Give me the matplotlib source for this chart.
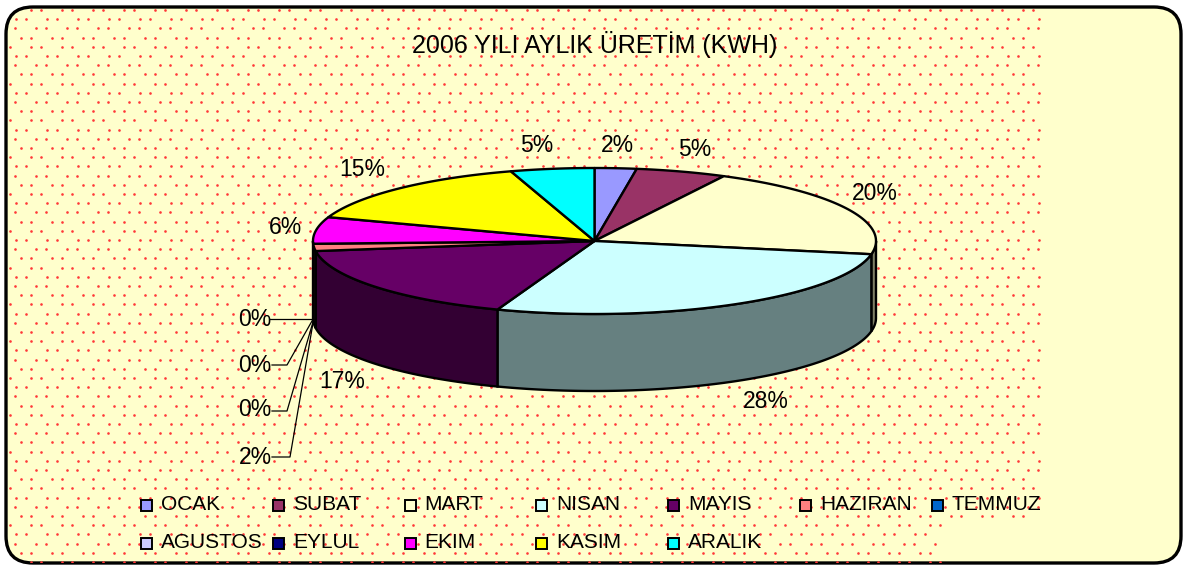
import numpy as np
import matplotlib.pyplot as plt
from matplotlib.patches import FancyBboxPatch, Polygon, Rectangle

plt.rcParams['font.family'] = ['Liberation Sans', 'DejaVu Sans']

# monthly share of production (percent)
months = ["OCAK", "SUBAT", "MART", "NISAN", "MAYIS", "HAZIRAN", "TEMMUZ",
          "AGUSTOS", "EYLUL", "EKIM", "KASIM", "ARALIK"]
share = [2.4, 5.2, 20.3, 27.7, 17.2, 1.6, 0.0, 0.0, 0.0, 5.9, 14.9, 4.8]
colors = ["#9999FF", "#993366", "#FFFFCC", "#CCFFFF", "#660066", "#FF8080",
          "#0066CC", "#CCCCFF", "#000080", "#FF00FF", "#FFFF00", "#00FFFF"]
title = "2006 YILI AYLIK ÜRETİM (KWH)"

# label placement (pixel coords, Excel layout)
label_xy = [(617, 145), (695, 150), (875, 193), (766, 402), (342, 382),
            (255, 457), (255, 410), (255, 365), (255, 320),
            (286, 228), (362, 170), (537, 145)]
leader = {5: [(272, 457), (290, 457), (313, 323)],
          6: [(272, 411), (287, 411), (313, 322)],
          7: [(272, 365), (287, 365), (312, 321)],
          8: [(270, 319), (312, 319)]}

W, H = 1184, 566
fig = plt.figure(figsize=(W / 100, H / 100), dpi=100)
ax = fig.add_axes([0, 0, 1, 1])
ax.set_xlim(0, W)
ax.set_ylim(H, 0)
ax.axis('off')

# frame + dotted background
frame = FancyBboxPatch((6, 7), 1175, 556, boxstyle="round,pad=0,rounding_size=27",
                       fc="#FFFFCC", ec="black", lw=2.4, zorder=1)
ax.add_patch(frame)
dx, dy = [], []
for k, yy in enumerate(np.arange(10, 562, 9.2)):
    off = 15.5 * (k % 2) + 5 * ((k // 2) % 2)
    for xx in np.arange(-31 + off, 1040, 31):
        for o in (0, 10):
            if 6 < xx + o < 1042 and not (xx + o > 940 and yy > 518):
                dx.append(xx + o)
                dy.append(yy)
dots = ax.scatter(dx, dy, s=3.6, c="#FF3838", lw=0, zorder=2)
dots.set_clip_path(frame)

# pseudo 3D pie
cx, cy, rx, ry, depth = 594.5, 241, 281.5, 73, 77


def arc(a0, a1, shift=0.0):
    t = np.radians(np.linspace(a0, a1, max(int(abs(a1 - a0) * 2), 2)))
    return np.column_stack([cx + rx * np.sin(t), cy - ry * np.cos(t) + shift])


def darker(c):
    r, g, b = [int(c[i:i + 2], 16) / 255 for i in (1, 3, 5)]
    return (r * 0.5, g * 0.5, b * 0.5)


bounds = np.concatenate([[0], np.cumsum(share)]) / sum(share) * 360
for i, c in enumerate(colors):
    a0, a1 = bounds[i], bounds[i + 1]
    s0, s1 = max(a0, 90), min(a1, 270)
    if s1 > s0:
        top = arc(s0, s1)
        bot = arc(s1, s0, depth)
        ax.add_patch(Polygon(np.vstack([top, bot]), closed=True, fc=darker(c),
                             ec="black", lw=1.7, zorder=3))
for i, c in enumerate(colors):
    a0, a1 = bounds[i], bounds[i + 1]
    if a1 - a0 <= 0:
        continue
    pts = np.vstack([[cx, cy], arc(a0, a1)])
    ax.add_patch(Polygon(pts, closed=True, fc=c, ec="black", lw=1.7,
                         joinstyle="round", zorder=4))

# data labels
for i, (x, y) in enumerate(label_xy):
    ax.text(x, y, f"{round(share[i] / sum(share) * 100)}%", fontsize=16.5,
            ha="center", va="center", zorder=6)
    if i in leader:
        lx, ly = zip(*leader[i])
        ax.plot(lx, ly, color="black", lw=0.9, zorder=5)

ax.text(595, 44, title, fontsize=18, ha="center", va="center", zorder=6)

# legend, 7 per row like Excel
for i, (m, c) in enumerate(zip(months, colors)):
    x = 141 + 131.8 * (i % 7)
    y = 505 + 38 * (i // 7)
    ax.add_patch(Rectangle((x, y - 5.5), 11, 11, fc=c, ec="black", lw=1.4, zorder=6))
    ax.text(x + 20, y, m, fontsize=15, ha="left", va="center", zorder=6)

fig.savefig("out.png", dpi=100)
